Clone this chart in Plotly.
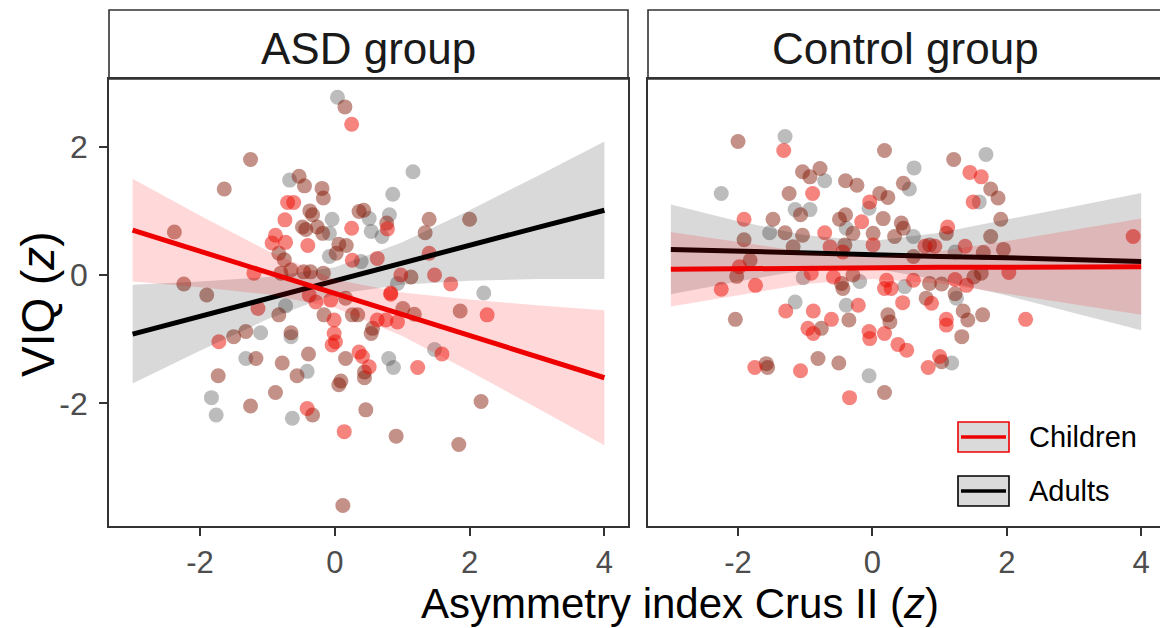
import plotly.graph_objects as go

# ---------------- data ----------------
# ASD group, points (three marker tones as seen in the figure)
asd_red_x = [0.25, -0.70, -0.61, -0.74, 0.25, -0.88, -0.93, -0.73, -0.40, 0.26, -1.20, 0.78, 1.40, 0.63,
             0.98, 1.48, 1.72, 0.83, -1.14, -0.28, -0.38, -0.06, -0.01, 0.63, 0.76, 0.93, 0.83, 2.26,
             -0.01, 0.01, -0.04, -1.72, 0.36, 0.41, 0.51, 1.23, 1.59, -0.41, 0.14]
asd_red_y = [2.35, 1.13, 1.13, 0.86, 0.73, 0.62, 0.50, 0.51, 0.46, 0.23, 0.03, 0.72, 0.34, 0.26,
             0.00, 0.00, -0.14, -0.28, -0.52, -0.42, -0.31, -0.39, -0.70, -0.70, -0.70, -0.73, -0.30, -0.62,
             -0.91, -1.04, -1.09, -1.04, -1.20, -1.27, -1.43, -1.44, -1.23, -2.08, -2.44]

asd_grey_x = [0.04, -0.67, -0.04, -0.08, -0.08, 1.16, 0.86, 0.51, 0.81, 0.54, 0.70, 0.39, 0.93, 2.21,
              -0.73, -1.10, -0.65, -1.32, -0.41, 0.80, 0.87, 1.48, -1.83, -1.76, -0.63]
asd_grey_y = [2.77, 1.48, 0.87, 0.65, 0.29, 1.61, 1.26, 0.88, 0.94, 0.68, 0.60, 0.21, -0.13, -0.28,
              -0.48, -0.90, -0.96, -1.30, -1.50, -1.30, -1.44, -1.16, -1.91, -2.18, -2.23]

asd_brown_x = [0.15, -1.25, -1.64, -0.53, -0.45, -0.19, -0.17, -0.37, -0.33, -0.26, -0.48, -0.43, -0.18,
               0.36, -2.38, 0.06, 0.17, -0.83, -0.75, 0.02, -0.80, -0.65, -0.46, -0.36, -0.17, -2.24,
               -1.90, 0.43, 0.77, 1.40, 1.34, 2.00, 1.13, -0.83, 0.16, -0.16, 0.26, 0.34, 1.01, 1.18,
               1.86, 0.56, 0.54, -1.50, -1.32, -0.65, -1.17, -0.78, -0.39, -0.56, 0.16, 0.44, 0.44,
               0.09, 0.06, -1.73, -0.88, -1.25, -0.33, 0.46, 0.91, 1.84, 2.17, 0.12]
asd_brown_y = [2.62, 1.80, 1.34, 1.54, 1.39, 1.35, 1.20, 1.00, 0.94, 0.75, 0.75, 0.71, 0.65,
               0.99, 0.67, 0.48, 0.46, 0.34, 0.24, 0.34, 0.03, 0.08, 0.05, 0.05, 0.03, -0.14,
               -0.31, 1.01, 0.81, 0.87, 0.66, 0.87, -0.03, -0.62, -0.36, -0.62, -0.62, -0.62, -0.52, -0.61,
               -0.56, -0.83, -0.91, -0.96, -0.88, -0.90, -1.30, -1.37, -1.23, -1.57, -1.30, -1.51, -1.60,
               -1.65, -1.71, -1.57, -1.83, -2.04, -2.18, -2.10, -2.51, -2.64, -1.97, -3.59]

# Control group, points
ctl_red_x = [-1.32, -0.89, -0.04, -1.91, -0.16, -0.71, -0.63, -0.44, 0.01, -1.98, -1.74, -2.25, -0.91,
             -0.58, 0.21, 0.18, -1.29, -0.88, -0.61, -0.21, -0.96, -0.88, -0.05, -0.04, 0.18, 0.38,
             -1.75, -1.07, -0.34, 1.45, 1.62, 1.50, 1.12, 3.88, 0.78, 0.93, 1.38, 2.03, 1.23, 0.61,
             0.28, 1.40, 0.88, 0.45, 1.10, 1.10, 2.28, 0.51, 1.00, 0.83]
ctl_red_y = [1.94, 1.27, 1.14, 0.87, 0.83, 0.66, 0.44, 0.36, 0.47, 0.13, -0.16, -0.22, 0.03,
             -0.03, -0.08, -0.21, -0.56, -0.56, -0.69, -0.47, -0.83, -0.91, -0.88, -0.99, -0.91, -1.08,
             -1.44, -1.49, -1.91, 1.60, 1.53, 1.14, 0.75, 0.60, 0.45, 0.45, 0.45, 0.04, -0.07, -0.08,
             -0.21, -0.16, -0.44, -0.43, -0.69, -0.78, -0.69, -1.17, -1.27, -1.44]

ctl_grey_x = [-1.30, -0.71, -2.25, -1.15, -0.93, -0.05, -1.53, -0.39, -1.03, -0.19, -1.15, -0.39, -0.05,
              1.69, 0.62, 0.55, 1.59, 0.61, 1.23, 0.48, 1.25, 1.18]
ctl_grey_y = [2.16, 1.47, 1.27, 1.02, 1.02, 1.04, 0.66, 0.73, -0.04, -0.10, -0.42, -0.47, -1.57,
              1.88, 1.67, 1.34, 1.14, 0.60, 0.36, -0.18, -0.36, -1.37]

ctl_brown_x = [-2.00, 0.18, -1.04, -0.78, -0.93, -0.40, -0.23, -1.24, 0.11, 0.23, -1.07, -1.48, -0.40,
               -0.49, 0.16, 0.43, -1.30, -1.04, -0.29, 0.01, -1.91, -1.18, -0.41, -1.82, -2.02, -0.29,
               -0.46, -0.44, -0.35, -2.04, -0.76, 0.23, 0.26, -1.58, -1.56, -0.81, -0.50, 0.18, 1.21,
               0.46, 1.76, 1.87, 1.91, 0.46, 1.10, 1.76, 0.33, 0.85, 1.95, 1.65, 0.61, 1.62, 1.51, 0.85,
               1.03, 0.80, 1.23, 1.35, 1.42, 1.64, 1.33, 1.03]
ctl_brown_y = [2.08, 1.94, 1.61, 1.66, 1.53, 1.47, 1.40, 1.27, 1.27, 1.21, 0.94, 0.87, 0.94,
               0.87, 0.88, 0.81, 0.66, 0.62, 0.65, 0.65, 0.55, 0.44, 0.47, 0.23, -0.02, 0.00,
               -0.13, -0.21, -0.70, -0.69, -0.83, -0.62, -0.73, -1.38, -1.44, -1.30, -1.37, -1.83, 1.80,
               1.43, 1.34, 1.20, 0.87, 0.73, 0.65, 0.60, 0.60, 0.47, 0.40, 0.35, 0.29, 0.03, -0.03, -0.13,
               -0.14, -0.36, -0.29, -0.56, -0.70, -0.62, -0.96, -1.35]

# Fitted lines and confidence bands (read at x = -3 ... 4)
fit_x = [-3, -2, -1, 0, 1, 2, 3, 4]

asd_child_fit = [0.70, 0.37, 0.04, -0.29, -0.61, -0.94, -1.27, -1.60]
asd_child_hi = [1.50, 0.93, 0.38, -0.07, -0.27, -0.38, -0.47, -0.55]
asd_child_lo = [-0.10, -0.19, -0.30, -0.51, -0.95, -1.50, -2.07, -2.65]

asd_adult_fit = [-0.92, -0.64, -0.36, -0.09, 0.18, 0.46, 0.74, 1.01]
asd_adult_hi = [-0.15, -0.10, -0.03, 0.12, 0.51, 1.01, 1.54, 2.08]
asd_adult_lo = [-1.69, -1.18, -0.69, -0.30, -0.15, -0.09, -0.06, -0.06]

ctl_child_fit = [0.09, 0.10, 0.11, 0.11, 0.12, 0.12, 0.13, 0.13]
ctl_child_hi = [0.67, 0.51, 0.36, 0.28, 0.37, 0.53, 0.71, 0.88]
ctl_child_lo = [-0.49, -0.31, -0.14, -0.06, -0.13, -0.29, -0.45, -0.62]

ctl_adult_fit = [0.40, 0.37, 0.35, 0.32, 0.29, 0.27, 0.24, 0.21]
ctl_adult_hi = [1.10, 0.84, 0.62, 0.53, 0.66, 0.86, 1.07, 1.28]
ctl_adult_lo = [-0.30, -0.10, 0.08, 0.11, -0.08, -0.32, -0.59, -0.86]

panel_titles = ["ASD group", "Control group"]
legend_labels = ["Children", "Adults"]
x_ticks = [-2, 0, 2, 4]
y_ticks = [-2, 0, 2]
x_title = "Asymmetry index Crus II (<i>z</i>)"
y_title = "VIQ (<i>z</i>)"

# ---------------- styling ----------------
FONT = "Liberation Sans, Arial, Helvetica, sans-serif"
C_RED_PT = "rgba(235,10,0,0.50)"
C_GREY_PT = "rgba(70,70,70,0.36)"
C_BROWN_PT = "rgba(130,25,5,0.48)"
C_RED_BAND = "rgba(255,0,0,0.15)"
C_GREY_BAND = "rgba(0,0,0,0.15)"
C_RED_LINE = "#ee0000"
C_BLACK_LINE = "#000000"
FRAME = "#333333"

fig = go.Figure()

panels = [
    ("x", "y", (asd_red_x, asd_red_y), (asd_grey_x, asd_grey_y), (asd_brown_x, asd_brown_y),
     (asd_child_fit, asd_child_lo, asd_child_hi), (asd_adult_fit, asd_adult_lo, asd_adult_hi)),
    ("x2", "y2", (ctl_red_x, ctl_red_y), (ctl_grey_x, ctl_grey_y), (ctl_brown_x, ctl_brown_y),
     (ctl_child_fit, ctl_child_lo, ctl_child_hi), (ctl_adult_fit, ctl_adult_lo, ctl_adult_hi)),
]

for xa, ya, red, grey, brown, child, adult in panels:
    for (px, py), col in ((grey, C_GREY_PT), (brown, C_BROWN_PT), (red, C_RED_PT)):
        fig.add_trace(go.Scatter(x=px, y=py, mode="markers", xaxis=xa, yaxis=ya,
                                 marker=dict(size=15, color=col, line=dict(width=0)),
                                 showlegend=False, hoverinfo="skip"))
    # adults band + line
    fig.add_trace(go.Scatter(x=fit_x, y=adult[1], mode="lines", xaxis=xa, yaxis=ya,
                             line=dict(width=0, color=C_GREY_BAND), showlegend=False, hoverinfo="skip"))
    fig.add_trace(go.Scatter(x=fit_x, y=adult[2], mode="lines", xaxis=xa, yaxis=ya, fill="tonexty",
                             fillcolor=C_GREY_BAND, line=dict(width=0, color=C_GREY_BAND),
                             showlegend=False, hoverinfo="skip"))
    fig.add_trace(go.Scatter(x=fit_x, y=adult[0], mode="lines", xaxis=xa, yaxis=ya,
                             line=dict(width=5, color=C_BLACK_LINE), showlegend=False, hoverinfo="skip"))
    # children band + line
    fig.add_trace(go.Scatter(x=fit_x, y=child[1], mode="lines", xaxis=xa, yaxis=ya,
                             line=dict(width=0, color=C_RED_BAND), showlegend=False, hoverinfo="skip"))
    fig.add_trace(go.Scatter(x=fit_x, y=child[2], mode="lines", xaxis=xa, yaxis=ya, fill="tonexty",
                             fillcolor=C_RED_BAND, line=dict(width=0, color=C_RED_BAND),
                             showlegend=False, hoverinfo="skip"))
    fig.add_trace(go.Scatter(x=fit_x, y=child[0], mode="lines", xaxis=xa, yaxis=ya,
                             line=dict(width=5, color=C_RED_LINE), showlegend=False, hoverinfo="skip"))

W, H = 1160, 628
ML, MR, MT, MB = 109, 0, 79, 102
PW = W - ML - MR
PH = H - MT - MB


def px2x(px):
    return (px - ML) / PW


def px2y(py):
    return (H - MB - py) / PH


tick_txt_x = [str(v) for v in x_ticks]
tick_txt_y = [str(v) for v in y_ticks]

common_x = dict(showgrid=False, zeroline=False, showline=True, linecolor=FRAME, linewidth=1.6,
                mirror=True, ticks="outside", ticklen=8, tickwidth=1.6, tickcolor=FRAME,
                tickvals=x_ticks, ticktext=tick_txt_x, ticklabelstandoff=0,
                tickfont=dict(family=FONT, size=31, color="#4d4d4d"))

fig.update_layout(
    width=W, height=H,
    margin=dict(l=ML, r=MR, t=MT, b=MB, pad=0),
    paper_bgcolor="white", plot_bgcolor="white",
    showlegend=False,
    xaxis=dict(domain=[0, px2x(628)], range=[-3.35, 4.35], anchor="y", **common_x),
    xaxis2=dict(domain=[px2x(648), 1], range=[-3.34, 4.28], anchor="y2", **common_x),
    yaxis=dict(domain=[0, 1], range=[-3.91, 3.055], anchor="x", showgrid=False, zeroline=False,
               showline=True, linecolor=FRAME, linewidth=1.6, mirror=True, ticks="outside",
               ticklen=8, tickwidth=1.6, tickcolor=FRAME, tickvals=y_ticks, ticktext=tick_txt_y,
               ticklabelstandoff=5, tickfont=dict(family=FONT, size=32, color="#4d4d4d")),
    yaxis2=dict(domain=[0, 1], range=[-3.91, 3.055], anchor="x2", showgrid=False, zeroline=False,
                showline=True, linecolor=FRAME, linewidth=1.6, mirror=False, ticks="",
                showticklabels=False),
)

shapes = []
annotations = []
# facet strips
for (x0, x1), title, cx in (((109, 628), panel_titles[0], 368.5), ((648, 1175), panel_titles[1], 905)):
    shapes.append(dict(type="rect", xref="paper", yref="paper", x0=px2x(x0), x1=px2x(x1),
                       y0=px2y(79), y1=px2y(10), line=dict(color=FRAME, width=1.6),
                       fillcolor="white", layer="below"))
    annotations.append(dict(text=title, xref="paper", yref="paper", x=px2x(cx), y=px2y(48),
                            xanchor="center", yanchor="middle", showarrow=False,
                            font=dict(family=FONT, size=44, color="#1a1a1a")))

# axis titles
annotations.append(dict(text=x_title, xref="paper", yref="paper", x=px2x(680), y=px2y(603.5),
                        xanchor="center", yanchor="middle", showarrow=False,
                        font=dict(family=FONT, size=42, color="black")))
annotations.append(dict(text=y_title, xref="paper", yref="paper", x=px2x(38), y=px2y(304),
                        xanchor="center", yanchor="middle", showarrow=False, textangle=-90,
                        font=dict(family=FONT, size=46, color="black")))

# legend (drawn inside right panel)
for (top, bot), label, col in (((422, 452), legend_labels[0], "#ee0000"),
                               ((476, 506), legend_labels[1], "#000000")):
    shapes.append(dict(type="rect", xref="paper", yref="paper", x0=px2x(958), x1=px2x(1009),
                       y0=px2y(bot), y1=px2y(top), line=dict(color=col, width=1.6),
                       fillcolor="#dadada"))
    mid = (top + bot) / 2
    shapes.append(dict(type="line", xref="paper", yref="paper", x0=px2x(961), x1=px2x(1006),
                       y0=px2y(mid), y1=px2y(mid), line=dict(color=col, width=3.5)))
    annotations.append(dict(text=label, xref="paper", yref="paper", x=px2x(1027), y=px2y(mid),
                            xanchor="left", yanchor="middle", showarrow=False,
                            font=dict(family=FONT, size=29, color="black")))

fig.update_layout(shapes=shapes, annotations=annotations)

fig.write_html("out.html", config={"displayModeBar": False},
               post_script="document.body.style.margin='0';document.body.style.overflow='hidden';")
